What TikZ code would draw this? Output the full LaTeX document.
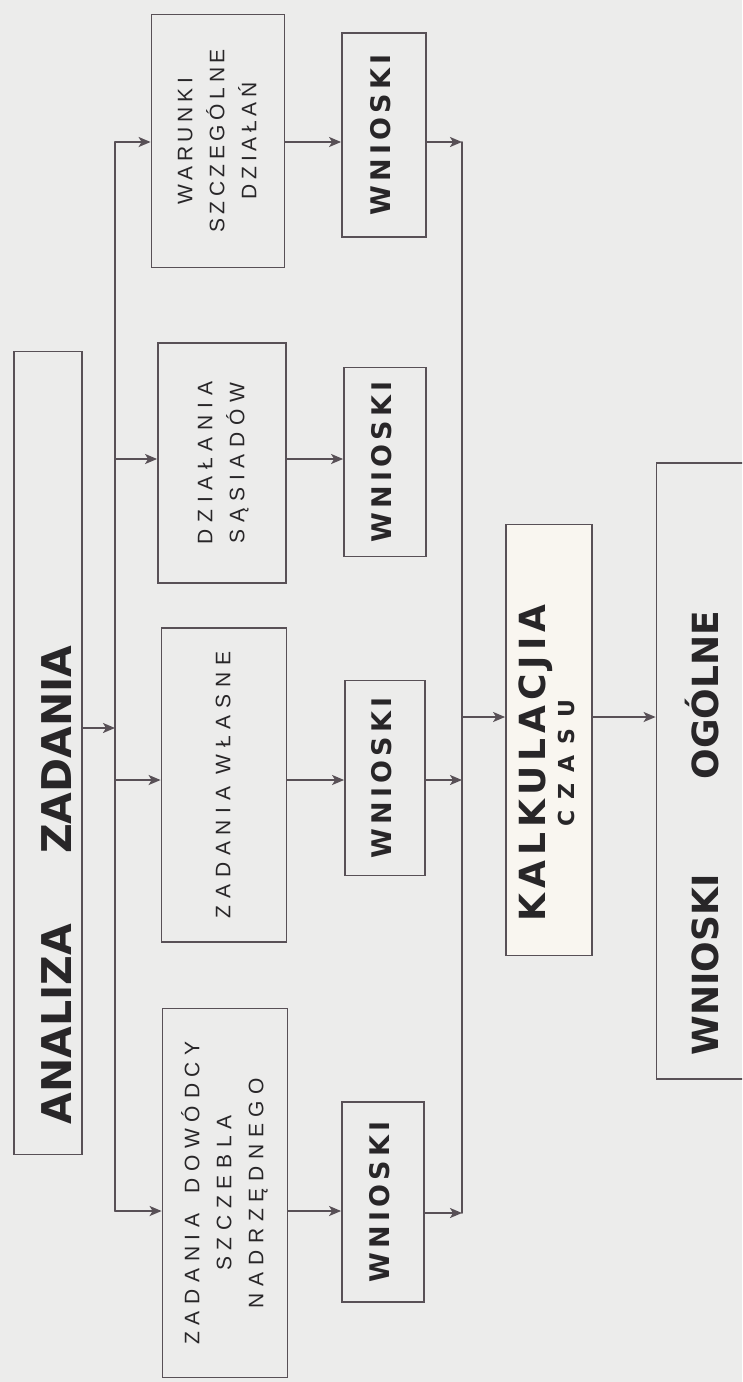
\documentclass[tikz,border=0pt]{standalone}
\usepackage{fontspec}
\usepackage{tikz}
\usetikzlibrary{arrows.meta}
\setmainfont{Liberation Sans}
\newfontfamily\thinhand[LetterSpace=32]{Liberation Sans}
\newfontfamily\boldhand{DejaVu Sans}
\definecolor{paper}{RGB}{236,236,235}
\definecolor{pen}{RGB}{88,80,86}
\definecolor{ink}{RGB}{40,38,40}
\definecolor{slip}{RGB}{249,246,240}
\newcommand{\vtext}[1]{\rotatebox{90}{\begin{tabular}{@{}c@{}}#1\end{tabular}}}

\begin{document}
\begin{tikzpicture}[x=1pt, y=-1pt,
		box/.style={draw=pen, line width=1.8pt, inner sep=0pt, text=ink},
		wire/.style={draw=pen, line width=1.8pt, line cap=round},
		arr/.style={wire, -{Stealth[length=12pt, width=10pt, inset=3pt]}},
		thintext/.style={font=\thinhand\fontsize{21}{32}\selectfont},
		wntext/.style={text=ink, font=\boldhand\bfseries\addfontfeature{LetterSpace=16}\fontsize{27}{30}\selectfont}]
		\begin{scope}
			\clip (0,0) rectangle (742,1382);
			\fill[paper] (0,0) rectangle (742,1382);

			% analiza
			\node[box, minimum width=68pt, minimum height=803pt] (analiza) at (48,753) {};
			\node[text=ink, rotate=90, font=\boldhand\bfseries\fontsize{41}{41}\selectfont] (analizatxt) at (57,885) {ANALIZA\hspace{70pt}ZADANIA};

			% boxes
			\node[box, thintext, minimum width=133pt, minimum height=253pt] (box1) at (218,141) {\vtext{\addfontfeature{LetterSpace=22}WARUNKI\\\addfontfeature{LetterSpace=22}SZCZEGÓLNE\\\addfontfeature{LetterSpace=22}DZIAŁAŃ}};
			\node[box, thintext, minimum width=128pt, minimum height=240pt] (box2) at (222,463) {\vtext{DZIAŁANIA\\SĄSIADÓW}};
			\node[box, thintext, minimum width=125pt, minimum height=314pt] (box3) at (224,785) {\vtext{ZADANIA WŁASNE}};
			\node[box, thintext, minimum width=125pt, minimum height=369pt] (box4) at (225,1193) {\vtext{ZADANIA\hspace{20pt}DOWÓDCY\\SZCZEBLA\\NADRZĘDNEGO}};

			\node[box, wntext, minimum width=84pt, minimum height=204pt] (wn1) at (384,135) {\vtext{WNIOSKI}};
			\node[box, wntext, minimum width=82pt, minimum height=189pt] (wn2) at (385,462) {\vtext{WNIOSKI}};
			\node[box, wntext, minimum width=80pt, minimum height=195pt] (wn3) at (385,778) {\vtext{WNIOSKI}};
			\node[box, wntext, minimum width=82pt, minimum height=200pt] (wn4) at (383,1202) {\vtext{WNIOSKI}};

			% kalkulacja, wnioski ogolne
			\node[box, fill=slip, minimum width=86pt, minimum height=431pt] (kalk) at (549,740) {};
			\node[text=ink, font=\boldhand\bfseries\fontsize{22}{36}\selectfont] (kalktxt) at (552,763) {\vtext{{\addfontfeature{LetterSpace=14}\fontsize{36}{36}\selectfont KALKULACJIA}\\[-7pt]{\addfontfeature{LetterSpace=50}CZASU}}};
			\node[box, minimum width=123pt, minimum height=616pt] (ogolne) at (718,771) {};
			\node[text=ink, rotate=90, font=\boldhand\bfseries\fontsize{36}{36}\selectfont] (ogolnetxt) at (702,833) {WNIOSKI\hspace{95pt}OGÓLNE};

			% buses
			\coordinate (lbin) at (115,728);
			\coordinate (lb1) at (115,142);
			\coordinate (lb2) at (115,459);
			\coordinate (lb3) at (115,780);
			\coordinate (lb4) at (115,1211);
			\coordinate (rb1) at (462,142);
			\coordinate (rb3) at (462,780);
			\coordinate (rb4) at (462,1213);
			\coordinate (kin) at (462,717);

			\draw[wire] (lb1) -- (lb4);
			\draw[wire] (rb1) -- (rb4);
			\draw[arr] (analiza.east |- lbin) -- (lbin);
			\foreach \i in {1,...,4} {
				\draw[arr] (lb\i) -- (box\i.west |- lb\i);
				\draw[arr] (box\i.east |- lb\i) -- (wn\i.west |- lb\i);
			}
			\foreach \i in {1,3,4}
				\draw[arr] (wn\i.east |- rb\i) -- (rb\i);
			\draw[arr] (kin) -- (kalk.west |- kin);
			\draw[arr] (kalk.east |- kin) -- (ogolne.west |- kin);
		\end{scope}
\end{tikzpicture}
\end{document}
